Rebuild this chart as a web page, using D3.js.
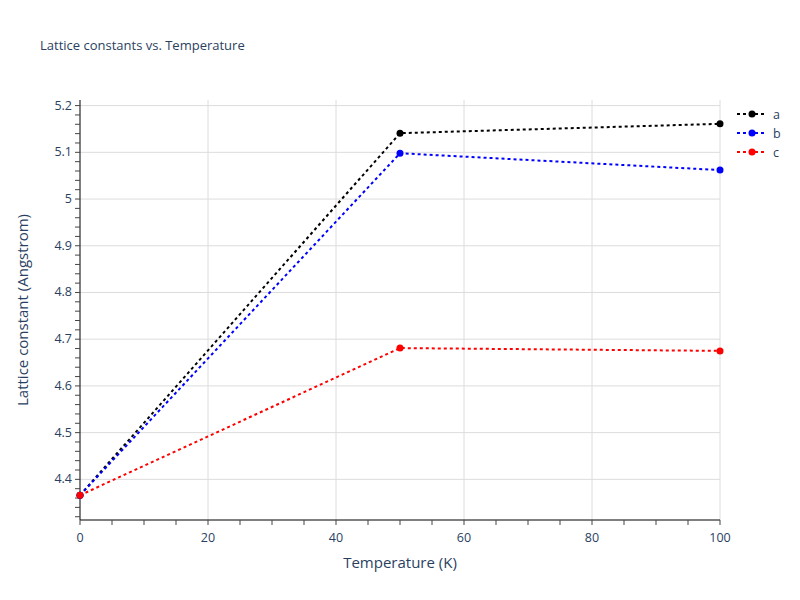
<!DOCTYPE html>
<html>
<head>
<meta charset="utf-8">
<script src="https://cdn.jsdelivr.net/npm/d3@7"></script>
<style>
  body { margin: 0; background: #fff; }
  text { font-family: "Open Sans", Verdana, Arial, sans-serif; fill: #2a3f5f; }
</style>
</head>
<body>
<svg id="chart" width="800" height="600"></svg>
<script>
const temperatures = [0, 50, 100]
const seriesNames = ['a', 'b', 'c']
const seriesColors = ['black', 'blue', 'red']
const aValues = [4.366, 5.141, 5.161]
const bValues = [4.366, 5.098, 5.062]
const cValues = [4.366, 4.681, 4.675]
const xTicks = [0, 20, 40, 60, 80, 100]
const yTicks = [4.4, 4.5, 4.6, 4.7, 4.8, 4.9, 5, 5.1, 5.2]

const series = [aValues, bValues, cValues].map((vals, i) => ({
  name: seriesNames[i],
  color: seriesColors[i],
  points: vals.map((v, j) => ({ x: temperatures[j], y: v }))
}))

const padding = { top: 100, right: 80, bottom: 80, left: 80 }
const width = 800, height = 600
const innerWidth = width - padding.left - padding.right
const innerHeight = height - padding.top - padding.bottom

const svg = d3.select('#chart')

const xScale = d3.scaleLinear().domain([0, 100]).range([0, innerWidth])
const yScale = d3.scaleLinear().domain([4.313, 5.212]).range([innerHeight, 0])

const plot = svg.append('g')
  .attr('transform', `translate(${ padding.left }, ${ padding.top })`)

// grid
plot.append('g').selectAll('line').data(xTicks.slice(1))
  .join('line')
  .attr('x1', d => xScale(d)).attr('x2', d => xScale(d))
  .attr('y1', 0).attr('y2', innerHeight)
  .attr('stroke', '#dcdcdc').attr('stroke-width', 1)

plot.append('g').selectAll('line').data(yTicks)
  .join('line')
  .attr('x1', 0).attr('x2', innerWidth)
  .attr('y1', d => yScale(d)).attr('y2', d => yScale(d))
  .attr('stroke', '#dcdcdc').attr('stroke-width', 1)

// minor ticks
const xMinor = d3.range(0, 100.001, 5)
const yMinor = d3.range(4.32, 5.2101, 0.02)

const xAxis = plot.append('g')
  .attr('transform', `translate(0, ${ innerHeight })`)
xAxis.append('line').attr('x1', 0).attr('x2', innerWidth)
  .attr('stroke', '#000').attr('stroke-width', 1)
xAxis.selectAll('.minor').data(xMinor).join('line')
  .attr('class', 'minor')
  .attr('x1', d => xScale(d)).attr('x2', d => xScale(d))
  .attr('y1', 0).attr('y2', 5)
  .attr('stroke', '#444')
xAxis.selectAll('text').data(xTicks).join('text')
  .attr('x', d => xScale(d)).attr('y', 22)
  .attr('text-anchor', 'middle')
  .style('font-size', '12.5px')
  .text(d => d)

const yAxis = plot.append('g')
yAxis.append('line').attr('y1', 0).attr('y2', innerHeight)
  .attr('stroke', '#000').attr('stroke-width', 1)
yAxis.selectAll('.minor').data(yMinor).join('line')
  .attr('class', 'minor')
  .attr('x1', -5).attr('x2', 0)
  .attr('y1', d => yScale(d)).attr('y2', d => yScale(d))
  .attr('stroke', '#444')
yAxis.selectAll('text').data(yTicks).join('text')
  .attr('x', -8).attr('y', d => yScale(d) + 4)
  .attr('text-anchor', 'end')
  .style('font-size', '12.5px')
  .text(d => d)

// lines
const line = d3.line().x(d => xScale(d.x)).y(d => yScale(d.y))

const layer = plot.append('g')
series.forEach(s => {
  layer.append('path')
    .datum(s.points)
    .attr('d', line)
    .attr('fill', 'none')
    .attr('stroke', s.color)
    .attr('stroke-width', 2)
    .attr('stroke-dasharray', '3,3')
  layer.selectAll(null).data(s.points).join('circle')
    .attr('cx', d => xScale(d.x)).attr('cy', d => yScale(d.y))
    .attr('r', 3.5)
    .attr('fill', s.color)
})

// titles
svg.append('text')
  .attr('x', 40).attr('y', 50)
  .style('font-size', '13px')
  .text('Lattice constants vs. Temperature')

svg.append('text')
  .attr('x', padding.left + innerWidth / 2).attr('y', 568)
  .attr('text-anchor', 'middle')
  .style('font-size', '15px')
  .text('Temperature (K)')

svg.append('text')
  .attr('transform', `translate(28, ${ padding.top + innerHeight / 2 }) rotate(-90)`)
  .attr('text-anchor', 'middle')
  .style('font-size', '15px')
  .text('Lattice constant (Angstrom)')

// legend
const legend = svg.append('g').attr('transform', 'translate(737, 114)')
series.forEach((s, i) => {
  const g = legend.append('g').attr('transform', `translate(0, ${ i * 19 })`)
  g.append('line').attr('x1', 0).attr('x2', 28)
    .attr('stroke', s.color).attr('stroke-width', 2)
    .attr('stroke-dasharray', '3,3')
  g.append('circle').attr('cx', 15).attr('r', 3.5).attr('fill', s.color)
  g.append('text').attr('x', 36).attr('y', 4.5)
    .style('font-size', '12.5px')
    .text(s.name)
})
</script>
</body>
</html>
